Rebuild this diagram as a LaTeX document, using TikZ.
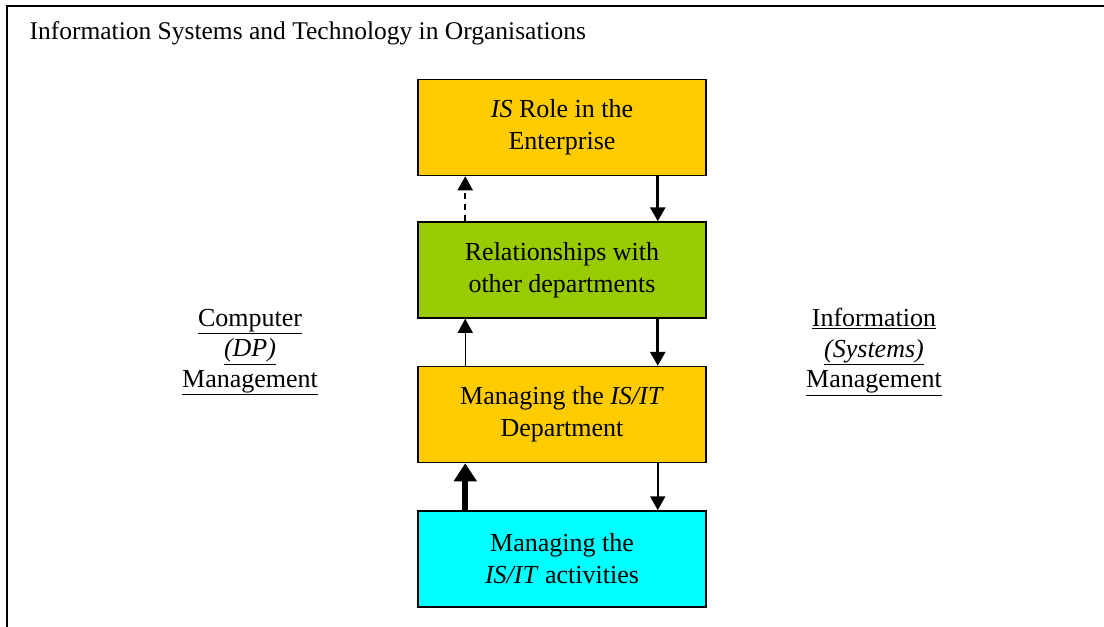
\documentclass[tikz,border=0pt]{standalone}
\usepackage{fontspec}
\setmainfont{Liberation Serif}
\usetikzlibrary{arrows.meta}
\definecolor{gold}{HTML}{FFCC00}
\definecolor{leaf}{HTML}{99CC00}
\definecolor{aqua}{HTML}{00FFFF}
\tikzset{
  box/.style={draw, line width=1.5pt, minimum width=288pt, minimum height=96pt,
    align=center, font=\fontsize{26}{32}\selectfont},
  side/.style={align=center, font=\fontsize{26}{30.5}\selectfont},
  tip/.style={-{Triangle[length=14pt,width=15pt]}}
}
\begin{document}
\begin{tikzpicture}[x=1pt,y=-1pt]
    \useasboundingbox (0,0) rectangle (1104,627);
    \draw[line width=2.5pt] (7,627)--(7,6)--(1104,6);
    \node[anchor=west,font=\fontsize{25.5}{30}\selectfont] (title) at (26,33) {Information Systems and Technology in Organisations};
    \node[box,fill=gold] (b1) at (562,127.5) {\textit{IS} Role in the\\Enterprise};
    \node[box,fill=leaf] (b2) at (562,270) {Relationships with\\other departments};
    \node[box,fill=gold] (b3) at (562,414.5) {Managing the \textit{IS/IT}\\Department};
    \node[box,fill=aqua] (b4) at (562,559) {Managing the\\\textit{IS/IT} activities};
    \node[side] (dp) at (250,352) {\underline{Computer}\\\underline{\textit{(DP)}}\\\underline{Management}};
    \node[side] (is) at (874,352) {\underline{Information}\\\underline{\textit{(Systems)}}\\\underline{Management}};
    % downward flow on the right
    \draw[tip,line width=3pt] ([xshift=-49]b1.south east)--([xshift=-49]b2.north east);
    \draw[tip,line width=3pt] ([xshift=-49]b2.south east)--([xshift=-49]b3.north east);
    \draw[tip,line width=2pt] ([xshift=-49]b3.south east)--([xshift=-49]b4.north east);
    % upward flow on the left
    \draw[tip,line width=2pt,dash pattern=on 6pt off 5pt] ([xshift=48]b2.north west)--([xshift=48]b1.south west);
    \draw[tip,line width=1pt] ([xshift=48]b3.north west)--([xshift=48]b2.south west);
    \draw[-{Triangle[length=18pt,width=22pt]},line width=6pt] ([xshift=48]b4.north west)--([xshift=48]b3.south west);
\end{tikzpicture}
\end{document}
